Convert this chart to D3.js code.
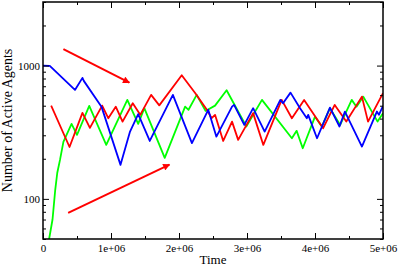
<!DOCTYPE html>
<html>
<head>
<meta charset="utf-8">
<script src="https://cdn.jsdelivr.net/npm/d3@7"></script>
<style>
  body { margin: 0; background: #fff; }
  text { font-family: "Liberation Serif", "Times New Roman", serif; }
</style>
</head>
<body>
<div id="chart"></div>
<script>
// Data (time in steps, count of active agents)
var blueTime  = [0, 0.10e6, 0.47e6, 0.58e6, 0.60e6, 0.86e6, 1.14e6, 1.28e6, 1.40e6, 1.57e6, 1.91e6, 2.19e6, 2.43e6, 2.55e6, 2.78e6, 2.81e6, 2.96e6, 3.09e6, 3.26e6, 3.49e6, 3.53e6, 3.64e6, 3.78e6, 3.88e6, 3.90e6, 4.03e6, 4.22e6, 4.36e6, 4.44e6, 4.69e6, 4.91e6, 4.94e6, 5.0e6];
var blueCount = [1000, 995, 657, 809, 768, 492, 180, 320, 432, 272, 603, 262, 466, 293, 492, 507, 359, 479, 320, 553, 522, 627, 479, 403, 427, 285, 484, 349, 452, 247, 452, 427, 499];

var redTime  = [0.12e6, 0.39e6, 0.58e6, 0.69e6, 0.87e6, 0.96e6, 1.07e6, 1.17e6, 1.32e6, 1.43e6, 1.59e6, 1.71e6, 2.04e6, 2.24e6, 2.41e6, 2.48e6, 2.53e6, 2.65e6, 2.78e6, 2.87e6, 3.09e6, 3.24e6, 3.51e6, 3.66e6, 3.84e6, 4.12e6, 4.29e6, 4.46e6, 4.69e6, 4.78e6, 5.0e6];
var redCount = [501, 245, 442, 341, 501, 403, 492, 380, 522, 427, 603, 503, 847, 621, 466, 403, 427, 272, 380, 277, 440, 254, 553, 403, 553, 339, 507, 380, 585, 380, 621];

var greenTime  = [0.08e6, 0.09e6, 0.14e6, 0.18e6, 0.21e6, 0.25e6, 0.30e6, 0.42e6, 0.50e6, 0.68e6, 0.93e6, 1.24e6, 1.40e6, 1.49e6, 1.79e6, 2.09e6, 2.14e6, 2.26e6, 2.39e6, 2.53e6, 2.70e6, 2.99e6, 3.22e6, 3.66e6, 3.73e6, 3.82e6, 4.0e6, 4.10e6, 4.22e6, 4.37e6, 4.54e6, 4.61e6, 4.71e6, 4.92e6, 5.0e6];
var greenCount = [42, 50, 70, 117, 157, 196, 268, 365, 302, 499, 254, 553, 365, 479, 203, 492, 466, 603, 457, 501, 653, 349, 553, 285, 324, 240, 414, 349, 479, 359, 553, 492, 585, 380, 440];

var xMajor = [0, 1e6, 2e6, 3e6, 4e6, 5e6];
var xLabels = ["0", "1e+06", "2e+06", "3e+06", "4e+06", "5e+06"];
var xMinor = [0.5e6, 1.5e6, 2.5e6, 3.5e6, 4.5e6];
var yMajor = [100, 1000];
var yMinor = [50, 60, 70, 80, 90, 200, 300, 400, 500, 600, 700, 800, 900, 2000, 3000];

// arrows: [t0, v0, t1, v1]
var arrowDown = [0.30e6, 1327, 1.27e6, 745];
var arrowUp   = [0.37e6, 78.5, 1.86e6, 181];

var W = 400, H = 266;
var margin = {left: 43, right: 17, top: 2, bottom: 27};
var iw = W - margin.left - margin.right;
var ih = H - margin.top - margin.bottom;

var svg = d3.select("#chart").append("svg")
    .attr("width", W)
    .attr("height", H);

var x = d3.scaleLinear().domain([0, 5e6]).range([0, iw]);
var y = d3.scaleLog().domain([50, 3000]).range([ih, 0]);

var g = svg.append("g").attr("transform", "translate(" + margin.left + "," + margin.top + ")");

svg.append("defs").append("clipPath").attr("id", "clip")
    .append("rect").attr("width", iw).attr("height", ih);

svg.select("defs").append("marker")
    .attr("id", "head")
    .attr("viewBox", "0 0 10 10")
    .attr("refX", 9).attr("refY", 5)
    .attr("markerWidth", 4).attr("markerHeight", 3.5)
    .attr("orient", "auto")
    .append("path").attr("d", "M0,0L10,5L0,10Z").attr("fill", "#ff0000");

// series
var series = [
  {t: greenTime, v: greenCount, c: "#00ff00"},
  {t: redTime,   v: redCount,   c: "#ff0000"},
  {t: blueTime,  v: blueCount,  c: "#0000ff"}
];
var line = d3.line().x(function(d) { return x(d[0]); }).y(function(d) { return y(d[1]); });

var lines = g.append("g").attr("clip-path", "url(#clip)");
series.forEach(function(s) {
  lines.append("path")
    .datum(d3.zip(s.t, s.v))
    .attr("d", line)
    .attr("fill", "none")
    .attr("stroke", s.c)
    .attr("stroke-width", 1.8)
    .attr("stroke-linejoin", "round");
});

// arrows
[arrowDown, arrowUp].forEach(function(a) {
  g.append("line")
    .attr("x1", x(a[0])).attr("y1", y(a[1]))
    .attr("x2", x(a[2])).attr("y2", y(a[3]))
    .attr("stroke", "#ff0000")
    .attr("stroke-width", 2)
    .attr("marker-end", "url(#head)");
});

// axes, ticks pointing inward on all four sides
function styleAxis(sel) {
  sel.attr("font-family", null).attr("font-size", null);
  sel.select(".domain").remove();
  sel.selectAll("line").attr("stroke", "#000").attr("stroke-width", 1);
  sel.selectAll("text").attr("font-size", "11px").attr("fill", "#000");
}

g.append("g").attr("transform", "translate(0," + ih + ")")
  .call(d3.axisBottom(x).tickValues(xMajor).tickSize(-6).tickPadding(5)
        .tickFormat(function(d, i) { return xLabels[i]; }))
  .call(styleAxis);
g.append("g").attr("transform", "translate(0," + ih + ")")
  .call(d3.axisBottom(x).tickValues(xMinor).tickSize(-3).tickFormat(""))
  .call(styleAxis);
g.append("g")
  .call(d3.axisTop(x).tickValues(xMajor).tickSize(-6).tickFormat(""))
  .call(styleAxis);
g.append("g")
  .call(d3.axisTop(x).tickValues(xMinor).tickSize(-3).tickFormat(""))
  .call(styleAxis);

g.append("g")
  .call(d3.axisLeft(y).tickValues(yMajor).tickSize(-6).tickPadding(3)
        .tickFormat(d3.format("d")))
  .call(styleAxis);
g.append("g")
  .call(d3.axisLeft(y).tickValues(yMinor).tickSize(-3).tickFormat(""))
  .call(styleAxis);
g.append("g").attr("transform", "translate(" + iw + ",0)")
  .call(d3.axisRight(y).tickValues(yMajor).tickSize(-6).tickFormat(""))
  .call(styleAxis);
g.append("g").attr("transform", "translate(" + iw + ",0)")
  .call(d3.axisRight(y).tickValues(yMinor).tickSize(-3).tickFormat(""))
  .call(styleAxis);

// frame
g.append("rect")
  .attr("width", iw).attr("height", ih)
  .attr("fill", "none")
  .attr("stroke", "#000")
  .attr("stroke-width", 1.5);

// axis titles
svg.append("text")
  .attr("x", margin.left + iw / 2)
  .attr("y", 264)
  .attr("text-anchor", "middle")
  .attr("font-size", "13px")
  .text("Time");

svg.append("text")
  .attr("transform", "translate(12," + (margin.top + ih / 2) + ") rotate(-90)")
  .attr("text-anchor", "middle")
  .attr("font-size", "14px")
  .text("Number of Active Agents");
</script>
</body>
</html>
